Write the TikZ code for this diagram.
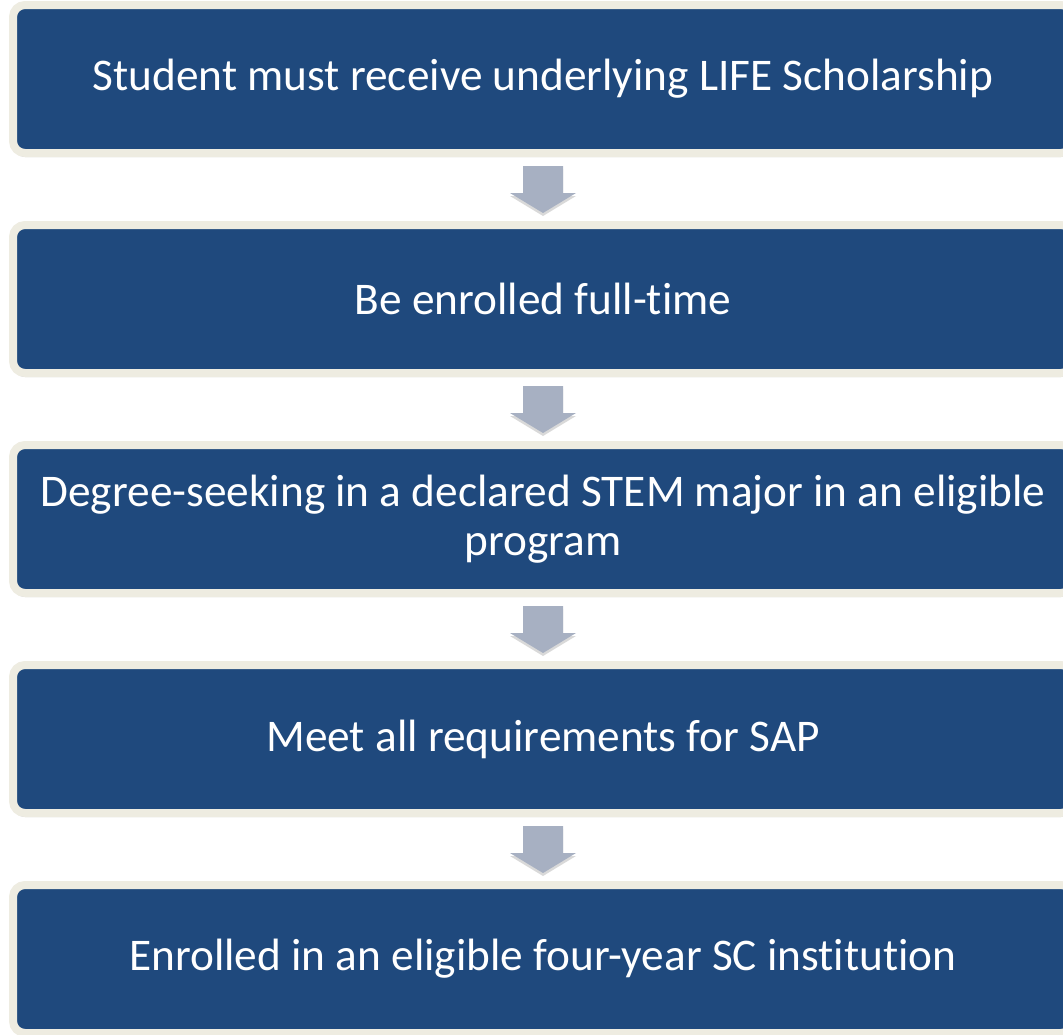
\documentclass[tikz,border=0pt]{standalone}
\usepackage{fontspec}
\setmainfont{Carlito}[Ligatures=NoCommon]
\usetikzlibrary{calc,shadows}
\definecolor{boxblue}{HTML}{1F497D}
\definecolor{boxrim}{HTML}{EEECE1}
\definecolor{arrowgray}{HTML}{A7B0C2}
\tikzset{
  stepbox/.style={draw=boxrim, line width=8pt, fill=boxblue, rounded corners=12pt,
    minimum width=1060pt, minimum height=148pt, inner sep=0pt,
    text=white, align=center, font=\fontsize{45.3}{49}\selectfont,
    drop shadow={shadow xshift=0pt, shadow yshift=-4pt, opacity=0.22, fill=black}},
  downarrow/.style={fill=arrowgray, draw=none,
    drop shadow={shadow xshift=0pt, shadow yshift=-3pt, opacity=0.15, fill=black}}
}
\begin{document}
\begin{tikzpicture}[x=1pt,y=-1pt]
\useasboundingbox (0,0) rectangle (1063,1034);
\clip (0,0) rectangle (1063,1034);
\node[stepbox] (b1) at (543,79)  {Student must receive underlying LIFE Scholarship};
\node[stepbox] (b2) at (543,299) {Be enrolled full-time};
\node[stepbox] (b3) at (543,519) {Degree-seeking in a declared STEM major in an eligible\\program};
\node[stepbox] (b4) at (543,739) {Meet all requirements for SAP};
\node[stepbox] (b5) at (543,959) {Enrolled in an eligible four-year SC institution};
\foreach \a/\b in {b1/b2,b2/b3,b3/b4,b4/b5}{
  \fill[downarrow] ($(\a.south)+(-20,9)$) -- ($(\a.south)+(20,9)$) -- ($(\a.south)+(20,36)$)
    -- ($(\a.south)+(33,36)$) -- ($(\b.north)+(0,-8)$) -- ($(\a.south)+(-33,36)$)
    -- ($(\a.south)+(-20,36)$) -- cycle;
}
\end{tikzpicture}
\end{document}
